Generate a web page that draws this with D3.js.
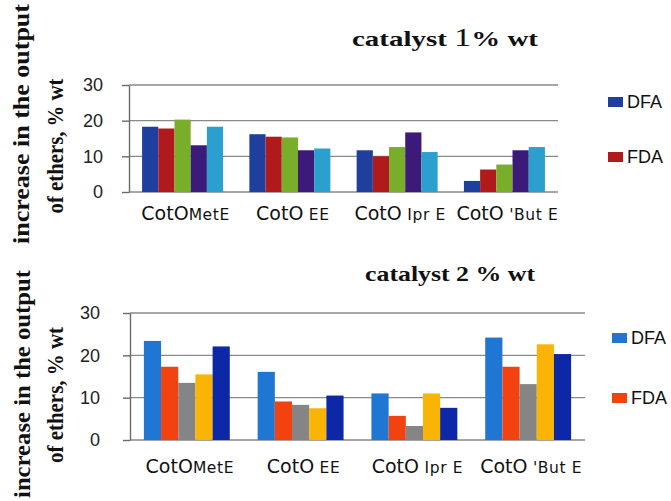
<!DOCTYPE html>
<html>
<head>
<meta charset="utf-8">
<script src="https://cdn.jsdelivr.net/npm/d3@7"></script>
<style>
  html, body { margin: 0; padding: 0; background: #fff; }
  svg { display: block; }
</style>
</head>
<body>
<svg id="chart" width="671" height="501"></svg>
<script>
// ---------- data ----------
const categories = ["MetE", "EE", "Ipr E", "'But E"];
const categoryPrefix = "CotO";
const categorySuffix = ["MetE", " EE", " Ipr E", " 'But E"];
const seriesNames = ["DFA", "FDA", "S3", "S4", "S5"];
const legendLabels = ["DFA", "FDA"];
const yTicks = [0, 10, 20, 30];

// catalyst 1 % wt
const values1 = [
  [18.3, 17.8, 20.3, 13.1, 18.3],
  [16.2, 15.5, 15.3, 11.7, 12.2],
  [11.7, 10.0, 12.6, 16.7, 11.2],
  [3.1, 6.3, 7.7, 11.7, 12.6]
];
// catalyst 2 % wt
const values2 = [
  [23.4, 17.3, 13.5, 15.5, 22.1],
  [16.1, 9.1, 8.3, 7.5, 10.5],
  [11.0, 5.7, 3.3, 11.0, 7.6],
  [24.2, 17.3, 13.2, 22.6, 20.3]
];

const colors1 = ["#1e3f9e", "#b01a1c", "#79ae2b", "#3b1a7a", "#2b9fcd"];
const colors2 = ["#1f76d3", "#f2420f", "#858585", "#f9b405", "#0c28a6"];

const svg = d3.select("#chart");

function panel(cfg) {
  const g = svg.append("g");
  const y = d3.scaleLinear().domain([0, 30]).range([cfg.y0, cfg.y30]);
  const x0 = d3.scaleBand().domain(categories).range([cfg.xl, cfg.xr])
    .paddingInner(0.245).paddingOuter(0.122);
  const x1 = d3.scaleBand().domain(d3.range(seriesNames.length)).range([0, x0.bandwidth()]);

  // gridlines
  g.append("g").selectAll("line").data(yTicks).join("line")
    .attr("x1", cfg.xl).attr("x2", cfg.xr)
    .attr("y1", d => y(d)).attr("y2", d => y(d))
    .attr("stroke", "#8a8a8a").attr("stroke-width", 1.4);

  // y axis
  const ax = g.append("g").attr("transform", `translate(${cfg.xl},0)`)
    .call(d3.axisLeft(y).tickValues(yTicks).tickSize(7).tickPadding(cfg.tickPad).tickSizeOuter(0));
  ax.select(".domain").attr("stroke", "#6a6a6a").attr("stroke-width", 1.4);
  ax.selectAll(".tick line").attr("stroke", "#6a6a6a").attr("stroke-width", 1.4);
  ax.selectAll(".tick text").attr("font-family", "Liberation Sans, Arial, sans-serif")
    .attr("font-size", 18).attr("fill", "#222");

  // bars
  const groups = g.append("g").selectAll("g").data(cfg.values).join("g")
    .attr("transform", (d, i) => `translate(${x0(categories[i])},0)`);
  groups.selectAll("rect").data(d => d).join("rect")
    .attr("x", (d, j) => x1(j))
    .attr("width", x1.bandwidth())
    .attr("y", d => y(d))
    .attr("height", d => y(0) - y(d))
    .attr("fill", (d, j) => cfg.colors[j]);

  // x labels
  const lab = g.append("g").selectAll("text").data(categories).join("text")
    .attr("x", d => x0(d) + x0.bandwidth() / 2 + cfg.labShift)
    .attr("y", cfg.labY)
    .attr("text-anchor", "middle")
    .attr("font-family", "DejaVu Sans, sans-serif")
    .attr("fill", "#111");
  lab.append("tspan").attr("font-size", 19).text(categoryPrefix);
  lab.append("tspan").attr("font-size", 15.5).attr("letter-spacing", 0.6).text((d, i) => categorySuffix[i]);

  // title
  const t = g.append("text")
    .attr("x", cfg.titleX).attr("y", cfg.titleY)
    .attr("font-family", "Liberation Serif, Times New Roman, serif")
    .attr("font-weight", "bold").attr("font-size", 21).attr("fill", "#111")
    .attr("textLength", cfg.titleW).attr("lengthAdjust", "spacingAndGlyphs");
  cfg.titleParts.forEach(p => {
    t.append("tspan").attr("font-weight", p.w).attr("font-size", p.s).text(p.t);
  });

  // y title (two lines)
  cfg.yTitle.forEach(l => {
    g.append("text")
      .attr("transform", `translate(${l.x},${l.cy}) rotate(-90)`)
      .attr("text-anchor", "middle")
      .attr("font-family", "Liberation Serif, Times New Roman, serif")
      .attr("font-weight", "bold").attr("font-size", 24).attr("fill", "#111")
      .attr("textLength", l.len).attr("lengthAdjust", "spacingAndGlyphs")
      .text(l.text);
  });

  // legend
  legendLabels.forEach((name, i) => {
    const ly = cfg.legY[i];
    g.append("rect").attr("x", cfg.legX).attr("y", ly - 11).attr("width", 15).attr("height", 10)
      .attr("fill", cfg.colors[i]);
    g.append("text").attr("x", cfg.legX + 19).attr("y", ly)
      .attr("font-family", "Liberation Sans, Arial, sans-serif").attr("font-size", 18)
      .attr("fill", "#111").text(name);
  });
}

panel({
  values: values1, colors: colors1,
  xl: 129, xr: 558, y0: 192, y30: 85, tickPad: 19,
  labY: 220, labShift: 3,
  titleX: 352, titleY: 46, titleW: 186,
  titleParts: [{t: "catalyst  ", w: "bold", s: 21}, {t: "1", w: "normal", s: 25}, {t: "% wt", w: "bold", s: 21}],
  yTitle: [
    {text: "increase in the output", x: 29, cy: 124, len: 240},
    {text: "of ethers, % wt", x: 63, cy: 146, len: 135}
  ],
  legX: 608, legY: [108, 163]
});

panel({
  values: values2, colors: colors2,
  xl: 130, xr: 585, y0: 440, y30: 313, tickPad: 23,
  labY: 473, labShift: 3,
  titleX: 365, titleY: 281, titleW: 170,
  titleParts: [{t: "catalyst 2 % wt", w: "bold", s: 21}],
  yTitle: [
    {text: "increase in the output", x: 30, cy: 384, len: 228},
    {text: "of ethers, % wt", x: 63, cy: 395, len: 136}
  ],
  legX: 612, legY: [344, 404]
});
</script>
</body>
</html>
